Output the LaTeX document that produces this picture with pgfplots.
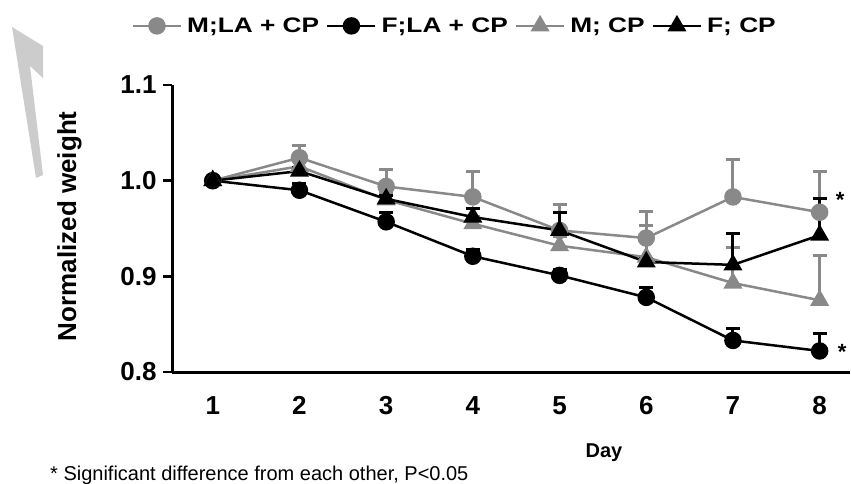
\documentclass[border=0pt]{standalone}
\usepackage{fontspec}
\setmainfont{Liberation Sans}
\newfontfamily\legfont[FakeStretch=1.25]{Liberation Sans}
\usepackage{pgfplots}
\pgfplotsset{compat=1.18}
\definecolor{mgray}{RGB}{137,137,137}

\begin{document}
\begin{tikzpicture}[x=1pt,y=1pt]
\useasboundingbox (0,0) rectangle (851,-483);
% faint watermark stroke
\fill[black!20] (12,-27) -- (43,-46) -- (43,-78) -- (30,-66) -- (43,-175) -- (36,-178) -- cycle;
\begin{axis}[
  at={(172pt,-372pt)}, anchor=south west,
  scale only axis, width=678pt, height=287pt,
  xmin=0.53, xmax=8.35, ymin=0.8, ymax=1.1,
  axis x line=bottom, axis y line=left,
  axis line style={-, line width=3pt},
  xtick={1,...,8}, ytick={0.8,0.9,1.0,1.1},
  x tick style={draw=none},
  y tick style={line width=2.5pt, black},
  major tick length=9pt, tick align=outside,
  yticklabel style={/pgf/number format/fixed, /pgf/number format/fixed zerofill, /pgf/number format/precision=1, xshift=-3pt},
  /pgf/number format/assume math mode=true,
  tick label style={font=\fontsize{26}{30}\selectfont\bfseries},
  xticklabel style={yshift=-12pt},
  ylabel={Normalized weight},
  ylabel style={font=\fontsize{26}{30}\selectfont\bfseries, at={(axis description cs:-0.128,0.508)}},
  clip=false,
  legend columns=4,
  legend style={draw=none, fill=none, at={(axis description cs:0.417,1.206)}, anchor=center,
    font=\legfont\fontsize{21}{24}\selectfont\bfseries, column sep=5pt,
    /tikz/every odd column/.append style={column sep=3pt}},
  legend image code/.code={\draw[mark repeat=2,mark phase=2] plot coordinates {(0pt,0pt) (24pt,0pt) (48pt,0pt)};},
  error bars/y dir=plus, error bars/y explicit,
  error bars/error mark options={line width=3pt, mark size=7pt, rotate=90},
]
\addplot[mgray, line width=2.5pt, mark=*, mark size=7.5pt,
  error bars/error bar style={line width=3pt, mgray}]
  coordinates {(1,1.000) +- (0,0) (2,1.024) +- (0,0.013) (3,0.994) +- (0,0.018) (4,0.983) +- (0,0.027)
    (5,0.948) +- (0,0.027) (6,0.940) +- (0,0.028) (7,0.983) +- (0,0.039) (8,0.967) +- (0,0.043)};
\addlegendentry{M;LA + CP}
\addplot[black, line width=2.5pt, mark=*, mark size=7.5pt,
  error bars/error bar style={line width=3pt, black}]
  coordinates {(1,1.000) +- (0,0) (2,0.990) +- (0,0.007) (3,0.957) +- (0,0.010) (4,0.921) +- (0,0.007)
    (5,0.901) +- (0,0.006) (6,0.878) +- (0,0.010) (7,0.833) +- (0,0.013) (8,0.822) +- (0,0.018)};
\addlegendentry{F;LA + CP}
\addplot[mgray, line width=2.5pt, mark=triangle*, mark size=8.5pt,
  error bars/error bar style={line width=3pt, mgray}]
  coordinates {(1,1.000) +- (0,0) (2,1.015) +- (0,0.008) (3,0.980) +- (0,0.008) (4,0.955) +- (0,0.008)
    (5,0.932) +- (0,0.010) (6,0.920) +- (0,0.033) (7,0.893) +- (0,0.037) (8,0.875) +- (0,0.047)};
\addlegendentry{M; CP}
\addplot[black, line width=2.5pt, mark=triangle*, mark size=8.5pt,
  error bars/error bar style={line width=3pt, black}]
  coordinates {(1,1.000) +- (0,0) (2,1.010) +- (0,0.004) (3,0.981) +- (0,0.004) (4,0.962) +- (0,0.009)
    (5,0.948) +- (0,0.019) (6,0.915) +- (0,0.004) (7,0.912) +- (0,0.033) (8,0.943) +- (0,0.038)};
\addlegendentry{F; CP}
\node[font=\fontsize{22}{26}\selectfont\bfseries] at (axis cs:8.235,0.980) {*};
\node[font=\fontsize{22}{26}\selectfont\bfseries] at (axis cs:8.26,0.821) {*};
\end{axis}
\node[font=\fontsize{20}{24}\selectfont\bfseries] at (604,-453) {Day};
\node[font=\fontsize{20}{24}\selectfont, anchor=base west, inner sep=0pt] at (50,-480) {* Significant difference from each other, P<0.05};
\end{tikzpicture}
\end{document}
